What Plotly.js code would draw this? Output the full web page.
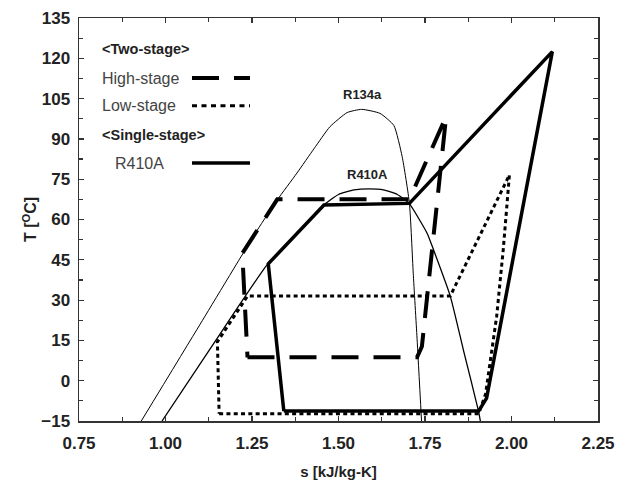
<!DOCTYPE html>
<html>
<head>
<meta charset="utf-8">
<script src="https://cdn.plot.ly/plotly-3.0.1.min.js"></script>
<style>html,body{margin:0;padding:0;background:#fff;}#chart{width:621px;height:488px;}</style>
</head>
<body>
<div id="chart"></div>
<script>
// R134a saturation dome
const s134 = [0.93, 1.10, 1.265, 1.323, 1.38, 1.43, 1.475, 1.525, 1.567, 1.62, 1.66, 1.684, 1.705, 1.716, 1.727, 1.74];
const T134 = [-15, 21, 56, 67.3, 77.3, 86.5, 94.5, 99.8, 101, 99.5, 95, 83.4, 66, 40, 15.8, -15];
// R410A saturation dome
const s410 = [0.99, 1.14, 1.294, 1.376, 1.458, 1.50, 1.545, 1.588, 1.63, 1.67, 1.705, 1.756, 1.775, 1.823, 1.861, 1.905, 1.91];
const T410 = [-15, 14, 43.2, 54.3, 65.4, 69.3, 71, 71.4, 71, 69.3, 65.8, 54.9, 48.6, 31.5, 11.4, -11.5, -15];
// Two-stage: high-stage cycle
const sHigh = [1.237, 1.727, 1.741, 1.811, 1.705, 1.323, 1.222, 1.237];
const THigh = [8.7, 8.7, 12.7, 98.3, 67.5, 67.5, 47.4, 8.7];
// Two-stage: low-stage cycle
const sLow = [1.155, 1.905, 1.925, 1.938, 1.957, 1.976, 1.994, 1.823, 1.237, 1.15, 1.155];
const TLow = [-12.3, -12.3, -5, 6.5, 23.8, 48.6, 76.6, 31.5, 31.5, 14.5, -12.3];
// Single-stage R410A cycle
const sSingle = [1.342, 1.905, 1.928, 2.118, 1.705, 1.458, 1.297, 1.342];
const TSingle = [-11.3, -11.3, -6.5, 122.5, 66, 65.4, 43.5, -11.3];

// Axis ticks
const xTicks = [0.75, 1.00, 1.25, 1.50, 1.75, 2.00, 2.25];
const xTickText = ["0.75", "1.00", "1.25", "1.50", "1.75", "2.00", "2.25"];
const yTicks = [-15, 0, 15, 30, 45, 60, 75, 90, 105, 120, 135];

const traces = [
  {x: s134, y: T134, mode: 'lines', line: {color: '#000', width: 1, shape: 'spline', smoothing: 0.5}, hoverinfo: 'skip'},
  {x: s410, y: T410, mode: 'lines', line: {color: '#000', width: 1.3, shape: 'spline', smoothing: 0.5}, hoverinfo: 'skip'},
  {x: sHigh, y: THigh, mode: 'lines', line: {color: '#000', width: 4, dash: '27px,15px'}, hoverinfo: 'skip'},
  {x: sLow, y: TLow, mode: 'lines', line: {color: '#000', width: 3, dash: '4px,3.3px'}, hoverinfo: 'skip'},
  {x: sSingle, y: TSingle, mode: 'lines', line: {color: '#000', width: 3.5}, hoverinfo: 'skip'}
];

const tickFont = {family: 'Liberation Sans, Arial, sans-serif', size: 17, color: '#222', weight: 'bold'};
const legY = [0.923, 0.851, 0.782, 0.710, 0.640];
const lx0 = 0.2177, lx1 = 0.3295;

const layout = {
  width: 621, height: 488,
  margin: {l: 79, r: 23, t: 18, b: 67},
  paper_bgcolor: '#fff', plot_bgcolor: '#fff',
  showlegend: false,
  xaxis: {
    range: [0.75, 2.25], tickvals: xTicks, ticktext: xTickText,
    ticks: 'inside', ticklen: 5, tickwidth: 1.2, tickcolor: '#333',
    minor: {dtick: 0.125, tick0: 0.75, ticks: 'inside', ticklen: 4, tickwidth: 1.2, tickcolor: '#333'},
    showline: true, linecolor: '#333', linewidth: 1.5, mirror: 'ticks',
    showgrid: false, zeroline: false, tickfont: tickFont, ticklabelstandoff: 6,
    title: {text: 's [kJ/kg-K]', font: {family: 'Liberation Sans, Arial, sans-serif', size: 15, color: '#222', weight: 'bold'}, standoff: 14}
  },
  yaxis: {
    range: [-15, 135], tickvals: yTicks,
    ticks: 'inside', ticklen: 5, tickwidth: 1.2, tickcolor: '#333',
    minor: {dtick: 7.5, tick0: -15, ticks: 'inside', ticklen: 4, tickwidth: 1.2, tickcolor: '#333'},
    showline: true, linecolor: '#333', linewidth: 1.5, mirror: 'ticks',
    showgrid: false, zeroline: false, tickfont: tickFont, ticklabelstandoff: 4,
    title: {text: 'T [<sup>O</sup>C]', font: {family: 'Liberation Sans, Arial, sans-serif', size: 16, color: '#222', weight: 'bold'}, standoff: 0}
  },
  annotations: [
    {xref: 'paper', yref: 'paper', x: 0.0405, y: legY[0], xanchor: 'left', yanchor: 'middle', showarrow: false,
     text: '&lt;Two-stage&gt;', font: {family: 'Liberation Sans, Arial, sans-serif', size: 14.5, color: '#222', weight: 'bold'}},
    {xref: 'paper', yref: 'paper', x: 0.0405, y: legY[1], xanchor: 'left', yanchor: 'middle', showarrow: false,
     text: 'High-stage', font: {family: 'Liberation Sans, Arial, sans-serif', size: 16, color: '#444'}},
    {xref: 'paper', yref: 'paper', x: 0.0405, y: legY[2], xanchor: 'left', yanchor: 'middle', showarrow: false,
     text: 'Low-stage', font: {family: 'Liberation Sans, Arial, sans-serif', size: 16, color: '#444'}},
    {xref: 'paper', yref: 'paper', x: 0.0405, y: legY[3], xanchor: 'left', yanchor: 'middle', showarrow: false,
     text: '&lt;Single-stage&gt;', font: {family: 'Liberation Sans, Arial, sans-serif', size: 14.5, color: '#222', weight: 'bold'}},
    {xref: 'paper', yref: 'paper', x: 0.0655, y: legY[4], xanchor: 'left', yanchor: 'middle', showarrow: false,
     text: 'R410A', font: {family: 'Liberation Sans, Arial, sans-serif', size: 16, color: '#444'}},
    {xref: 'x', yref: 'y', x: 1.57, y: 106.5, showarrow: false, text: 'R134a',
     font: {family: 'Liberation Sans, Arial, sans-serif', size: 13, color: '#222', weight: 'bold'}},
    {xref: 'x', yref: 'y', x: 1.585, y: 76.8, showarrow: false, text: 'R410A',
     font: {family: 'Liberation Sans, Arial, sans-serif', size: 13, color: '#222', weight: 'bold'}}
  ],
  shapes: [
    {type: 'line', xref: 'paper', yref: 'paper', x0: lx0, x1: lx1, y0: legY[1], y1: legY[1], line: {color: '#000', width: 4, dash: '27px,15px'}},
    {type: 'line', xref: 'paper', yref: 'paper', x0: lx0, x1: lx1, y0: legY[2], y1: legY[2], line: {color: '#000', width: 3, dash: '5px,4.5px'}},
    {type: 'line', xref: 'paper', yref: 'paper', x0: lx0, x1: lx1, y0: legY[4], y1: legY[4], line: {color: '#000', width: 3.5}}
  ]
};

Plotly.newPlot('chart', traces, layout, {staticPlot: true, displayModeBar: false});
</script>
</body>
</html>
